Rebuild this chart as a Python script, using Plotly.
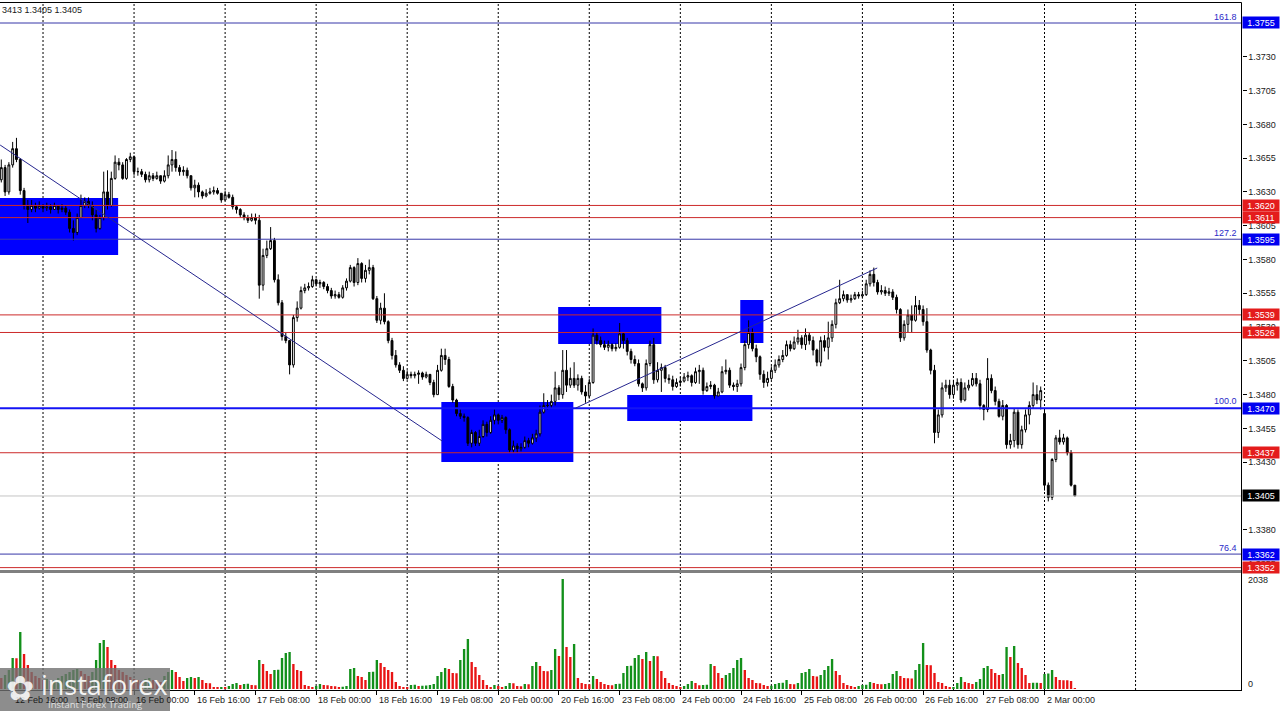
import plotly.graph_objects as go

W, H = 1280, 711
FONT = "Liberation Sans"

# ---------------- data (H1 bars, bar 0 = 13 Feb 00:00, weekends skipped) ----------------
BAR_INDEX = list(range(-11, 273))

OPEN = [
    1.3639, 1.3648, 1.3630, 1.3650, 1.3662, 1.3654, 1.3631, 1.3620, 1.3617, 1.3620, 1.3618,
    1.3620, 1.3618, 1.3619, 1.3617, 1.3620, 1.3617, 1.3618, 1.3615, 1.3603, 1.3600, 1.3611, 1.3620,
    1.3623, 1.3620, 1.3613, 1.3603, 1.3611, 1.3630, 1.3620, 1.3640, 1.3652, 1.3650, 1.3640, 1.3654,
    1.3656, 1.3645, 1.3645, 1.3643, 1.3639, 1.3642, 1.3640, 1.3642, 1.3638, 1.3642, 1.3650, 1.3654,
    1.3648, 1.3645, 1.3646, 1.3642, 1.3633, 1.3635, 1.3630, 1.3627, 1.3629, 1.3630, 1.3631, 1.3629,
    1.3624, 1.3628, 1.3626, 1.3619, 1.3617, 1.3613, 1.3611, 1.3609, 1.3611, 1.3609, 1.3561, 1.3583,
    1.3588, 1.3594, 1.3565, 1.3548, 1.3523, 1.3520, 1.3502, 1.3537, 1.3544, 1.3557, 1.3559, 1.3560,
    1.3565, 1.3562, 1.3563, 1.3560, 1.3557, 1.3553, 1.3554, 1.3552, 1.3559, 1.3564, 1.3574, 1.3563,
    1.3577, 1.3566, 1.3572, 1.3574, 1.3551, 1.3535, 1.3544, 1.3534, 1.3520, 1.3509, 1.3502, 1.3498,
    1.3492, 1.3495, 1.3494, 1.3495, 1.3496, 1.3493, 1.3495, 1.3489, 1.3480, 1.3498, 1.3509, 1.3506,
    1.3486, 1.3476, 1.3466, 1.3464, 1.3463, 1.3444, 1.3452, 1.3444, 1.3449, 1.3458, 1.3452, 1.3461,
    1.3465, 1.3461, 1.3463, 1.3454, 1.3439, 1.3442, 1.3440, 1.3441, 1.3446, 1.3444, 1.3448, 1.3451,
    1.3467, 1.3472, 1.3472, 1.3475, 1.3485, 1.3480, 1.3498, 1.3487, 1.3492, 1.3487, 1.3492, 1.3482,
    1.3479, 1.3489, 1.3524, 1.3520, 1.3517, 1.3515, 1.3517, 1.3514, 1.3515, 1.3525, 1.3520, 1.3512,
    1.3506, 1.3503, 1.3488, 1.3485, 1.3503, 1.3517, 1.3491, 1.3498, 1.3500, 1.3492, 1.3491, 1.3486,
    1.3489, 1.3490, 1.3493, 1.3494, 1.3489, 1.3497, 1.3498, 1.3483, 1.3486, 1.3487, 1.3479, 1.3482,
    1.3497, 1.3498, 1.3487, 1.3486, 1.3488, 1.3500, 1.3517, 1.3526, 1.3514, 1.3508, 1.3495, 1.3489,
    1.3492, 1.3498, 1.3502, 1.3506, 1.3509, 1.3517, 1.3514, 1.3519, 1.3522, 1.3517, 1.3524, 1.3520,
    1.3513, 1.3504, 1.3520, 1.3515, 1.3522, 1.3532, 1.3548, 1.3551, 1.3554, 1.3550, 1.3551, 1.3554,
    1.3553, 1.3554, 1.3562, 1.3569, 1.3563, 1.3556, 1.3557, 1.3555, 1.3556, 1.3552, 1.3543, 1.3522,
    1.3532, 1.3539, 1.3535, 1.3546, 1.3543, 1.3534, 1.3513, 1.3498, 1.3452, 1.3465, 1.3485, 1.3487,
    1.3480, 1.3487, 1.3489, 1.3476, 1.3485, 1.3487, 1.3492, 1.3488, 1.3472, 1.3469, 1.3492, 1.3483,
    1.3475, 1.3464, 1.3472, 1.3443, 1.3446, 1.3467, 1.3443, 1.3454, 1.3465, 1.3472, 1.3480, 1.3476,
    1.3466, 1.3413, 1.3404, 1.3432, 1.3448, 1.3445, 1.3448, 1.3437, 1.3413,
]

HIGH = [
    1.3654, 1.3650, 1.3652, 1.3667, 1.3670, 1.3655, 1.3633, 1.3624, 1.3624, 1.3622, 1.3623,
    1.3621, 1.3622, 1.3621, 1.3622, 1.3620, 1.3621, 1.3620, 1.3617, 1.3609, 1.3614, 1.3628, 1.3626,
    1.3626, 1.3623, 1.3617, 1.3613, 1.3645, 1.3646, 1.3645, 1.3657, 1.3655, 1.3652, 1.3655, 1.3659,
    1.3657, 1.3648, 1.3647, 1.3645, 1.3645, 1.3644, 1.3645, 1.3642, 1.3646, 1.3657, 1.3661, 1.3660,
    1.3650, 1.3649, 1.3648, 1.3642, 1.3639, 1.3637, 1.3631, 1.3632, 1.3633, 1.3634, 1.3633, 1.3629,
    1.3631, 1.3630, 1.3628, 1.3620, 1.3618, 1.3615, 1.3613, 1.3614, 1.3614, 1.3613, 1.3588, 1.3594,
    1.3604, 1.3596, 1.3569, 1.3550, 1.3526, 1.3520, 1.3539, 1.3549, 1.3560, 1.3562, 1.3563, 1.3568,
    1.3566, 1.3565, 1.3564, 1.3562, 1.3559, 1.3557, 1.3556, 1.3561, 1.3566, 1.3576, 1.3575, 1.3581,
    1.3578, 1.3576, 1.3580, 1.3576, 1.3553, 1.3548, 1.3555, 1.3535, 1.3522, 1.3513, 1.3504, 1.3501,
    1.3498, 1.3497, 1.3497, 1.3498, 1.3497, 1.3497, 1.3495, 1.3491, 1.3502, 1.3514, 1.3514, 1.3508,
    1.3488, 1.3477, 1.3469, 1.3466, 1.3464, 1.3454, 1.3453, 1.3454, 1.3461, 1.3460, 1.3464, 1.3469,
    1.3466, 1.3465, 1.3464, 1.3455, 1.3446, 1.3444, 1.3444, 1.3449, 1.3448, 1.3451, 1.3454, 1.3472,
    1.3481, 1.3476, 1.3480, 1.3497, 1.3487, 1.3513, 1.3513, 1.3500, 1.3504, 1.3495, 1.3494, 1.3487,
    1.3492, 1.3529, 1.3526, 1.3523, 1.3520, 1.3520, 1.3518, 1.3518, 1.3533, 1.3526, 1.3522, 1.3514,
    1.3509, 1.3506, 1.3489, 1.3506, 1.3520, 1.3522, 1.3504, 1.3503, 1.3502, 1.3495, 1.3494, 1.3492,
    1.3493, 1.3496, 1.3497, 1.3495, 1.3500, 1.3502, 1.3500, 1.3489, 1.3490, 1.3488, 1.3485, 1.3501,
    1.3506, 1.3500, 1.3489, 1.3491, 1.3503, 1.3520, 1.3535, 1.3529, 1.3517, 1.3509, 1.3498, 1.3497,
    1.3501, 1.3506, 1.3509, 1.3513, 1.3520, 1.3520, 1.3523, 1.3528, 1.3524, 1.3529, 1.3526, 1.3523,
    1.3514, 1.3523, 1.3524, 1.3534, 1.3535, 1.3551, 1.3565, 1.3557, 1.3554, 1.3554, 1.3556, 1.3556,
    1.3557, 1.3565, 1.3572, 1.3574, 1.3565, 1.3561, 1.3560, 1.3559, 1.3558, 1.3554, 1.3544, 1.3535,
    1.3543, 1.3546, 1.3553, 1.3550, 1.3546, 1.3544, 1.3514, 1.3502, 1.3469, 1.3489, 1.3491, 1.3491,
    1.3491, 1.3492, 1.3492, 1.3489, 1.3491, 1.3496, 1.3496, 1.3491, 1.3473, 1.3507, 1.3495, 1.3486,
    1.3477, 1.3476, 1.3473, 1.3451, 1.3470, 1.3469, 1.3457, 1.3469, 1.3475, 1.3489, 1.3487, 1.3486,
    1.3469, 1.3415, 1.3433, 1.3450, 1.3454, 1.3451, 1.3449, 1.3439, 1.3413,
]

LOW = [
    1.3637, 1.3627, 1.3628, 1.3648, 1.3652, 1.3628, 1.3617, 1.3607, 1.3615, 1.3615, 1.3617,
    1.3615, 1.3616, 1.3614, 1.3617, 1.3614, 1.3615, 1.3613, 1.3600, 1.3594, 1.3598, 1.3611, 1.3618,
    1.3618, 1.3609, 1.3600, 1.3602, 1.3609, 1.3617, 1.3619, 1.3639, 1.3646, 1.3639, 1.3639, 1.3652,
    1.3642, 1.3642, 1.3641, 1.3637, 1.3637, 1.3638, 1.3639, 1.3636, 1.3637, 1.3640, 1.3645, 1.3645,
    1.3642, 1.3642, 1.3640, 1.3631, 1.3626, 1.3626, 1.3625, 1.3626, 1.3628, 1.3628, 1.3628, 1.3622,
    1.3624, 1.3625, 1.3617, 1.3614, 1.3611, 1.3609, 1.3607, 1.3608, 1.3606, 1.3551, 1.3557, 1.3581,
    1.3587, 1.3563, 1.3546, 1.3520, 1.3518, 1.3495, 1.3500, 1.3534, 1.3543, 1.3555, 1.3557, 1.3559,
    1.3560, 1.3559, 1.3558, 1.3555, 1.3551, 1.3551, 1.3551, 1.3551, 1.3557, 1.3563, 1.3560, 1.3561,
    1.3563, 1.3563, 1.3569, 1.3550, 1.3533, 1.3532, 1.3532, 1.3518, 1.3506, 1.3500, 1.3496, 1.3490,
    1.3491, 1.3492, 1.3492, 1.3488, 1.3491, 1.3492, 1.3487, 1.3478, 1.3480, 1.3497, 1.3502, 1.3485,
    1.3474, 1.3464, 1.3462, 1.3460, 1.3442, 1.3441, 1.3442, 1.3442, 1.3448, 1.3449, 1.3451, 1.3458,
    1.3458, 1.3459, 1.3451, 1.3437, 1.3437, 1.3437, 1.3438, 1.3440, 1.3441, 1.3443, 1.3445, 1.3449,
    1.3466, 1.3469, 1.3470, 1.3472, 1.3476, 1.3477, 1.3482, 1.3485, 1.3485, 1.3483, 1.3480, 1.3474,
    1.3477, 1.3488, 1.3517, 1.3515, 1.3513, 1.3512, 1.3512, 1.3512, 1.3514, 1.3514, 1.3509, 1.3503,
    1.3501, 1.3486, 1.3482, 1.3483, 1.3501, 1.3488, 1.3489, 1.3482, 1.3489, 1.3488, 1.3483, 1.3485,
    1.3486, 1.3489, 1.3490, 1.3486, 1.3488, 1.3488, 1.3480, 1.3482, 1.3484, 1.3477, 1.3479, 1.3481,
    1.3495, 1.3485, 1.3483, 1.3482, 1.3486, 1.3498, 1.3514, 1.3512, 1.3504, 1.3491, 1.3485, 1.3486,
    1.3491, 1.3496, 1.3500, 1.3504, 1.3508, 1.3512, 1.3513, 1.3517, 1.3514, 1.3513, 1.3517, 1.3509,
    1.3501, 1.3501, 1.3512, 1.3506, 1.3519, 1.3529, 1.3547, 1.3549, 1.3548, 1.3548, 1.3550, 1.3551,
    1.3551, 1.3553, 1.3560, 1.3560, 1.3554, 1.3554, 1.3553, 1.3553, 1.3550, 1.3540, 1.3519, 1.3520,
    1.3526, 1.3526, 1.3534, 1.3539, 1.3531, 1.3511, 1.3495, 1.3444, 1.3448, 1.3463, 1.3482, 1.3477,
    1.3477, 1.3483, 1.3474, 1.3475, 1.3483, 1.3486, 1.3486, 1.3469, 1.3461, 1.3467, 1.3481, 1.3472,
    1.3463, 1.3461, 1.3440, 1.3440, 1.3441, 1.3440, 1.3440, 1.3452, 1.3458, 1.3470, 1.3473, 1.3469,
    1.3409, 1.3401, 1.3402, 1.3430, 1.3443, 1.3443, 1.3435, 1.3412, 1.3405,
]

CLOSE = [
    1.3648, 1.3630, 1.3650, 1.3662, 1.3654, 1.3631, 1.3620, 1.3617, 1.3620, 1.3618, 1.3620,
    1.3618, 1.3619, 1.3617, 1.3620, 1.3617, 1.3618, 1.3615, 1.3603, 1.3600, 1.3611, 1.3620, 1.3623,
    1.3620, 1.3613, 1.3603, 1.3611, 1.3630, 1.3620, 1.3640, 1.3652, 1.3650, 1.3640, 1.3654, 1.3656,
    1.3645, 1.3645, 1.3643, 1.3639, 1.3642, 1.3640, 1.3642, 1.3638, 1.3642, 1.3650, 1.3654, 1.3648,
    1.3645, 1.3646, 1.3642, 1.3633, 1.3635, 1.3630, 1.3627, 1.3629, 1.3630, 1.3631, 1.3629, 1.3624,
    1.3628, 1.3626, 1.3619, 1.3617, 1.3613, 1.3611, 1.3609, 1.3611, 1.3609, 1.3561, 1.3583, 1.3588,
    1.3594, 1.3565, 1.3548, 1.3523, 1.3520, 1.3502, 1.3537, 1.3544, 1.3557, 1.3559, 1.3560, 1.3565,
    1.3562, 1.3563, 1.3560, 1.3557, 1.3553, 1.3554, 1.3552, 1.3559, 1.3564, 1.3574, 1.3563, 1.3577,
    1.3566, 1.3572, 1.3574, 1.3551, 1.3535, 1.3544, 1.3534, 1.3520, 1.3509, 1.3502, 1.3498, 1.3492,
    1.3495, 1.3494, 1.3495, 1.3496, 1.3493, 1.3495, 1.3489, 1.3480, 1.3498, 1.3509, 1.3506, 1.3486,
    1.3476, 1.3466, 1.3464, 1.3463, 1.3444, 1.3452, 1.3444, 1.3449, 1.3458, 1.3452, 1.3461, 1.3465,
    1.3461, 1.3463, 1.3454, 1.3439, 1.3442, 1.3440, 1.3441, 1.3446, 1.3444, 1.3448, 1.3451, 1.3467,
    1.3472, 1.3472, 1.3475, 1.3485, 1.3480, 1.3498, 1.3487, 1.3492, 1.3487, 1.3492, 1.3482, 1.3479,
    1.3489, 1.3524, 1.3520, 1.3517, 1.3515, 1.3517, 1.3514, 1.3515, 1.3525, 1.3520, 1.3512, 1.3506,
    1.3503, 1.3488, 1.3485, 1.3503, 1.3517, 1.3491, 1.3498, 1.3500, 1.3492, 1.3491, 1.3486, 1.3489,
    1.3490, 1.3493, 1.3494, 1.3489, 1.3497, 1.3498, 1.3483, 1.3486, 1.3487, 1.3479, 1.3482, 1.3497,
    1.3498, 1.3487, 1.3486, 1.3488, 1.3500, 1.3517, 1.3526, 1.3514, 1.3508, 1.3495, 1.3489, 1.3492,
    1.3498, 1.3502, 1.3506, 1.3509, 1.3517, 1.3514, 1.3519, 1.3522, 1.3517, 1.3524, 1.3520, 1.3513,
    1.3504, 1.3520, 1.3515, 1.3522, 1.3532, 1.3548, 1.3551, 1.3554, 1.3550, 1.3551, 1.3554, 1.3553,
    1.3554, 1.3562, 1.3569, 1.3563, 1.3556, 1.3557, 1.3555, 1.3556, 1.3552, 1.3543, 1.3522, 1.3532,
    1.3539, 1.3535, 1.3546, 1.3543, 1.3534, 1.3513, 1.3498, 1.3452, 1.3465, 1.3485, 1.3487, 1.3480,
    1.3487, 1.3489, 1.3476, 1.3485, 1.3487, 1.3492, 1.3488, 1.3472, 1.3469, 1.3492, 1.3483, 1.3475,
    1.3464, 1.3472, 1.3443, 1.3446, 1.3467, 1.3443, 1.3454, 1.3465, 1.3472, 1.3480, 1.3476, 1.3483,
    1.3413, 1.3404, 1.3432, 1.3448, 1.3445, 1.3448, 1.3437, 1.3413, 1.3405,
]

VOLUME = [
    204, 259, 352, 574, 570, 1055, 648, 444, 315, 241, 204,
    167, 185, 148, 167, 204, 241, 278, 315, 352, 370, 333, 278,
    241, 315, 537, 851, 907, 777, 537, 444, 352, 315, 259, 222,
    185, 167, 148, 185, 204, 167, 148, 130, 241, 315, 352, 315,
    222, 148, 204, 222, 204, 222, 167, 111, 107, 37, 19, 37,
    19, 56, 93, 111, 74, 93, 96, 74, 70, 537, 463, 333,
    278, 352, 355, 574, 666, 685, 463, 352, 333, 74, 56, 37,
    56, 93, 74, 70, 56, 52, 37, 40, 56, 370, 389, 241,
    222, 167, 315, 320, 537, 481, 407, 352, 315, 130, 56, 37,
    19, 74, 78, 56, 60, 65, 74, 93, 241, 315, 389, 370,
    296, 290, 537, 740, 925, 500, 407, 259, 167, 74, 19, 74,
    56, 19, 56, 111, 107, 56, 52, 93, 90, 426, 500, 426,
    333, 330, 352, 740, 611, 2038, 777, 592, 833, 204, 111, 93,
    90, 241, 185, 130, 93, 74, 70, 93, 96, 296, 426, 430,
    574, 629, 555, 685, 518, 611, 605, 333, 204, 111, 74, 56,
    37, 56, 93, 148, 111, 70, 74, 78, 463, 426, 296, 204,
    259, 296, 389, 537, 574, 352, 204, 167, 111, 107, 74, 56,
    60, 93, 111, 115, 167, 93, 90, 111, 296, 315, 370, 241,
    233, 259, 352, 426, 555, 333, 259, 111, 74, 56, 37, 56,
    74, 78, 130, 111, 93, 90, 93, 111, 278, 333, 241, 204,
    200, 196, 352, 463, 851, 444, 440, 296, 130, 111, 56, 19,
    37, 111, 222, 130, 111, 93, 130, 185, 389, 426, 370, 296,
    259, 278, 777, 592, 796, 481, 389, 259, 111, 115, 118, 111,
    278, 285, 352, 222, 167, 163, 160, 148, 15,
]

# day separators (00:00 of each trading day) and time-axis labels
GRID_BARS = [0, 24, 48, 72, 96, 120, 144, 168, 192, 216, 240, 264, 288]
TICK_BARS = [-8, 8, 24, 40, 56, 72, 88, 104, 120, 136, 152, 168, 184, 200, 216, 232, 248, 264]
TICK_TEXT = ["12 Feb 16:00", "13 Feb 08:00", "16 Feb 00:00", "16 Feb 16:00", "17 Feb 08:00",
             "18 Feb 00:00", "18 Feb 16:00", "19 Feb 08:00", "20 Feb 00:00", "20 Feb 16:00",
             "23 Feb 08:00", "24 Feb 00:00", "24 Feb 16:00", "25 Feb 08:00", "26 Feb 00:00",
             "26 Feb 16:00", "27 Feb 08:00", "2 Mar 00:00"]
PRICE_TICKS = [1.3355, 1.3380, 1.3405, 1.3430, 1.3455, 1.3480, 1.3505, 1.3530, 1.3555,
               1.3580, 1.3605, 1.3630, 1.3655, 1.3680, 1.3705, 1.3730]

# horizontal levels
RED_LEVELS = [1.3620, 1.3611, 1.3539, 1.3526, 1.3437, 1.3352]
FIB_LEVELS = [1.3755, 1.3595, 1.3362]
FIB_TEXT = ["161.8", "127.2", "76.4"]
MAIN_LEVEL = 1.3470
MAIN_TEXT = "100.0"
CURRENT_PRICE = 1.3405
PRICE_TAGS = [(1.3755, "blue"), (1.3620, "red"), (1.3611, "red"), (1.3595, "blue"),
              (1.3539, "red"), (1.3526, "red"), (1.3470, "blue"), (1.3437, "red"),
              (1.3405, "black"), (1.3362, "blue"), (1.3352, "red")]

# blue zones: (bar from, bar to, price low, price high)
ZONES = [(-11.5, 19.8, 1.35833, 1.36255),
         (105.0, 139.8, 1.34301, 1.34745),
         (135.8, 163.0, 1.35174, 1.35448),
         (154.0, 187.0, 1.34605, 1.34797),
         (183.8, 189.9, 1.35182, 1.35500)]
# trend lines: (bar0, price0, bar1, price1)
TRENDS = [(-11.3, 1.36647, 105.2, 1.34457),
          (140.3, 1.34699, 219.9, 1.35737)]

VOL_MAX_LABEL = 2038

# ---------------- styling helpers ----------------
TAG_COLORS = {"blue": "#0000f0", "red": "#e41c1c", "black": "#000000"}
GREEN, RED = "#12901a", "#e81414"
PLOT_RIGHT = 1241.5
X_RANGE = [-11.34, 315.93]
PRICE_RANGE = [1.334875, 1.37698]
VOL_RANGE = [-18.5, 2093.6]


def px_x(p):
    return p / W


def px_y(p):
    return 1 - p / H


vol_colors = [RED if k == 0 or VOLUME[k] <= VOLUME[k - 1] else GREEN for k in range(len(VOLUME))]

fig = go.Figure()
fig.add_trace(go.Candlestick(
    x=BAR_INDEX, open=OPEN, high=HIGH, low=LOW, close=CLOSE,
    increasing=dict(line=dict(color="#000000", width=1), fillcolor="#ffffff"),
    decreasing=dict(line=dict(color="#000000", width=1), fillcolor="#000000"),
    whiskerwidth=0, xaxis="x", yaxis="y", showlegend=False, hoverinfo="skip"))
fig.add_trace(go.Bar(
    x=BAR_INDEX, y=VOLUME, marker=dict(color=vol_colors, line=dict(width=0)),
    width=0.62, xaxis="x2", yaxis="y2", showlegend=False, hoverinfo="skip"))

shapes = []
for (b0, b1, p0, p1) in ZONES:
    shapes.append(dict(type="rect", xref="x", yref="y", x0=b0, x1=b1, y0=p0, y1=p1,
                       fillcolor="#0000ff", line=dict(width=0), layer="below"))
for b in GRID_BARS:
    shapes.append(dict(type="line", xref="x", yref="paper", x0=b, x1=b,
                       y0=px_y(690), y1=px_y(3),
                       line=dict(color="#000000", width=1, dash="2px,2px"), layer="below"))
for p in RED_LEVELS:
    shapes.append(dict(type="line", xref="paper", yref="y", x0=0, x1=px_x(PLOT_RIGHT), y0=p, y1=p,
                       line=dict(color="#cc2a2a", width=1)))
for p in FIB_LEVELS:
    shapes.append(dict(type="line", xref="paper", yref="y", x0=0, x1=px_x(PLOT_RIGHT), y0=p, y1=p,
                       line=dict(color="#3636a8", width=1)))
shapes.append(dict(type="line", xref="paper", yref="y", x0=0, x1=px_x(PLOT_RIGHT),
                   y0=MAIN_LEVEL, y1=MAIN_LEVEL, line=dict(color="#1414f5", width=2)))
shapes.append(dict(type="line", xref="paper", yref="y", x0=0, x1=px_x(PLOT_RIGHT),
                   y0=CURRENT_PRICE, y1=CURRENT_PRICE, line=dict(color="#c4c4c4", width=1)))
for (b0, p0, b1, p1) in TRENDS:
    shapes.append(dict(type="line", xref="x", yref="y", x0=b0, y0=p0, x1=b1, y1=p1,
                       line=dict(color="#26268f", width=1)))
# frame: top border, pane separator, right scale border
shapes.append(dict(type="line", xref="paper", yref="paper", x0=0, x1=px_x(PLOT_RIGHT),
                   y0=px_y(2.5), y1=px_y(2.5), line=dict(color="#000000", width=1)))
shapes.append(dict(type="line", xref="paper", yref="paper", x0=0, x1=px_x(PLOT_RIGHT),
                   y0=px_y(571.5), y1=px_y(571.5), line=dict(color="#808080", width=3)))
shapes.append(dict(type="line", xref="paper", yref="paper", x0=px_x(PLOT_RIGHT), x1=px_x(PLOT_RIGHT),
                   y0=px_y(690.5), y1=px_y(2.5), line=dict(color="#000000", width=1)))
# watermark panel
shapes.append(dict(type="rect", xref="paper", yref="paper", x0=0, x1=px_x(170),
                   y0=0, y1=px_y(668), fillcolor="rgba(112,112,112,0.80)", line=dict(width=0),
                   layer="above"))

ann = []
for b, t in zip(TICK_BARS, TICK_TEXT):
    ann.append(dict(x=b, xref="x2", y=px_y(700), yref="paper", text=t, showarrow=False,
                    xanchor="left", yanchor="middle", xshift=0,
                    font=dict(family=FONT, size=9, color="#1a1a1a")))
for p, t in zip(FIB_LEVELS, FIB_TEXT):
    ann.append(dict(x=px_x(1239), xref="paper", y=p, yref="y", text=t, showarrow=False,
                    xanchor="right", yanchor="bottom", yshift=-1,
                    font=dict(family=FONT, size=9, color="#2a2ac8")))
ann.append(dict(x=px_x(1239), xref="paper", y=MAIN_LEVEL, yref="y", text=MAIN_TEXT, showarrow=False,
                xanchor="right", yanchor="bottom", yshift=0,
                font=dict(family=FONT, size=9, color="#2a2ac8")))
for p, c in PRICE_TAGS:
    ann.append(dict(x=px_x(1242), xref="paper", y=p, yref="y", text=f"{p:.4f}", showarrow=False,
                    xanchor="left", yanchor="middle", width=34, height=9, borderpad=1,
                    bgcolor=TAG_COLORS[c], align="center",
                    font=dict(family=FONT, size=9, color="#ffffff")))
ann.append(dict(x=px_x(1246), xref="paper", y=px_y(580), yref="paper", text=str(VOL_MAX_LABEL),
                showarrow=False, xanchor="left", yanchor="middle",
                font=dict(family=FONT, size=9, color="#1a1a1a")))
ann.append(dict(x=px_x(1246), xref="paper", y=px_y(684), yref="paper", text="0",
                showarrow=False, xanchor="left", yanchor="middle",
                font=dict(family=FONT, size=9, color="#1a1a1a")))
ann.append(dict(x=0, xref="paper", y=px_y(10), yref="paper", text="3413 1.3405 1.3405",
                showarrow=False, xanchor="left", yanchor="middle",
                font=dict(family=FONT, size=9, color="#1a1a1a")))
# watermark text
ann.append(dict(x=px_x(4), xref="paper", y=px_y(688), yref="paper", text="✿", showarrow=False,
                xanchor="left", yanchor="middle", font=dict(family="DejaVu Sans", size=34,
                                                           color="rgba(255,255,255,0.85)")))
ann.append(dict(x=px_x(39), xref="paper", y=px_y(684), yref="paper", text="instaforex",
                showarrow=False, xanchor="left", yanchor="middle",
                font=dict(family="Open Sans", size=27, color="rgba(255,255,255,0.92)")))
ann.append(dict(x=px_x(46), xref="paper", y=px_y(704), yref="paper", text="Instant Forex Trading",
                showarrow=False, xanchor="left", yanchor="middle",
                font=dict(family="Open Sans", size=9.5, color="rgba(235,235,235,0.9)")))

fig.update_layout(
    width=W, height=H, autosize=False,
    margin=dict(l=0, r=0, t=0, b=0),
    paper_bgcolor="#ffffff", plot_bgcolor="#ffffff",
    showlegend=False, shapes=shapes, annotations=ann,
    xaxis=dict(domain=[0, px_x(PLOT_RIGHT)], range=X_RANGE, anchor="y",
               showticklabels=False, showgrid=False, zeroline=False, ticks="",
               rangeslider=dict(visible=False), fixedrange=True),
    xaxis2=dict(domain=[0, px_x(PLOT_RIGHT)], range=X_RANGE, anchor="y2", matches="x",
                showticklabels=False, showgrid=False, zeroline=False,
                showline=True, linecolor="#000000", linewidth=1,
                ticks="outside", ticklen=4, tickcolor="#000000", tickvals=TICK_BARS),
    yaxis=dict(domain=[px_y(572), px_y(3)], range=PRICE_RANGE, side="right", anchor="x",
               showgrid=False, zeroline=False, showline=False,
               tickvals=PRICE_TICKS, ticktext=[f"{v:.4f}" for v in PRICE_TICKS],
               ticks="outside", ticklen=4, tickcolor="#000000",
               tickfont=dict(family=FONT, size=9, color="#1a1a1a")),
    yaxis2=dict(domain=[px_y(690), px_y(576)], range=VOL_RANGE, side="right", anchor="x2",
                showgrid=False, zeroline=False, showticklabels=False, ticks=""),
)

fig.write_html("out.html", config={"displayModeBar": False},
               post_script="document.body.style.margin='0';document.body.style.overflow='hidden';")
